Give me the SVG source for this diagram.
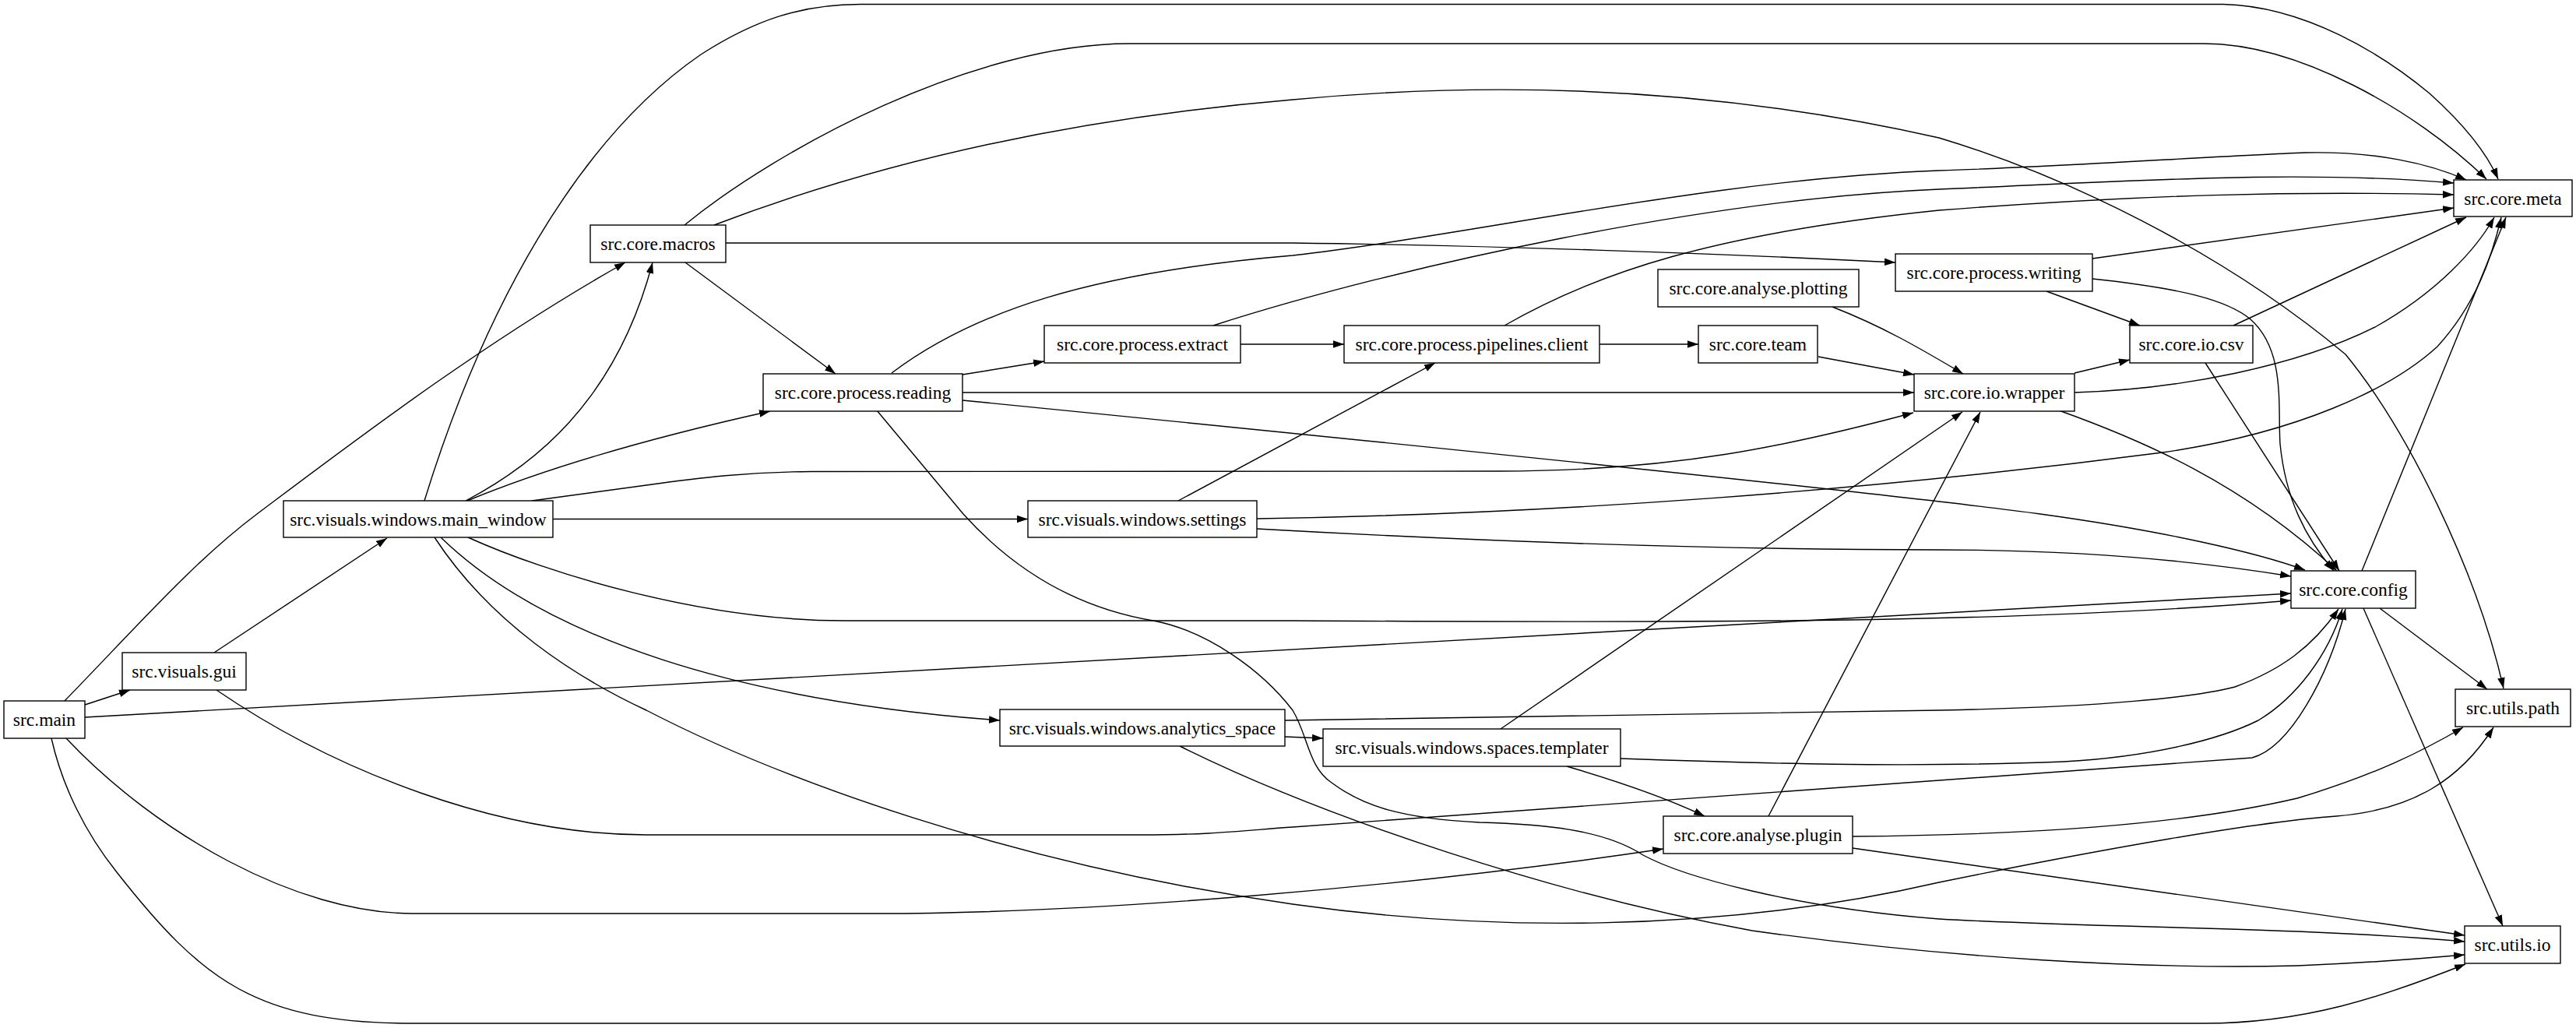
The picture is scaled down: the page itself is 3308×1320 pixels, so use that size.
<svg xmlns="http://www.w3.org/2000/svg" width="3308" height="1320" viewBox="0 0 3308 1320">
<style>
.n rect{fill:#fff;stroke:#000;stroke-width:1.4}
.n text{font-family:"Liberation Serif","Times New Roman",serif;font-size:23.5px;text-anchor:middle;fill:#000}
.e path{fill:none;stroke:#000;stroke-width:1.4;marker-end:url(#a)}
</style>
<defs>
<marker id="a" markerUnits="userSpaceOnUse" markerWidth="14" markerHeight="10" viewBox="0 0 14 10" refX="14" refY="5" orient="auto"><path d="M0,0.2 L14,5 L0,9.8 z" fill="#000"/></marker>
</defs>
<rect width="3308" height="1320" fill="#fff"/>
<g id="edges" class="e">
<path d="M109,905 L167,886"/>
<path d="M83,900 C180,800 250,720 330,660 C450,570 620,440 803,337"/>
<path d="M109,921 L2942,762"/>
<path d="M85,948 C200,1070 380,1173 530,1173 L1126,1173 C1400,1173 1800,1140 2136,1090"/>
<path d="M66,948 C80,1010 110,1070 150,1120 C260,1260 330,1314 530,1314 L2830,1314 C2960,1314 3060,1280 3166,1238"/>
<path d="M275,838 L497,691"/>
<path d="M278,886 C430,990 640,1072 830,1072 L1465,1072 C1560,1072 1600,1066 1660,1062 L2892,973 C2940,960 2990,870 3012,782"/>
<path d="M545,643 C620,400 740,180 900,70 C970,25 1030,5.5 1105,5.5 L2855,5.5 C2960,8 3060,70 3120,120 C3170,165 3195,200 3208,230"/>
<path d="M598,643 C680,600 790,520 838,337"/>
<path d="M600,643 C680,610 800,570 989,528"/>
<path d="M683,643 L830,623 C900,613 960,606 1042,605.5 L1925,605 C2150,605 2300,572 2457,530"/>
<path d="M710,666.5 L1320,666.5"/>
<path d="M601,690 C700,735 900,797 1084,797 L1660,797 C2200,800 2600,800 2942,771"/>
<path d="M566,690 C700,820 950,900 1284,925"/>
<path d="M558,690 C630,800 740,870 830,912 C1000,1000 1300,1110 1660,1161 C1900,1195 2200,1200 2490,1133 C2700,1090 2900,1055 3000,1048 C3100,1040 3160,1000 3202,934"/>
<path d="M879,289 C1000,190 1250,56 1450,56 L2830,56 C2950,56 3100,140 3193,230"/>
<path d="M917,289 C1150,200 1400,150 1660,128 C1850,110 2150,100 2490,177 C2650,225 2850,320 3012,455 C3090,550 3180,730 3215,884"/>
<path d="M932,312 L1660,312 C1900,315 2200,325 2434,337"/>
<path d="M880,337 L1073,480"/>
<path d="M1145,479 C1250,400 1400,350 1660,328 C1900,300 2200,230 2490,219 C2650,214 2850,200 2960,196 C3050,194 3120,210 3167,231"/>
<path d="M1236,481 L1341,464"/>
<path d="M1236,504 L2458,504"/>
<path d="M1236,514 C1700,560 2400,630 2620,660 C2780,682 2900,710 2960,732"/>
<path d="M1126,527 L1237,660 C1300,730 1380,780 1481,797 C1550,810 1620,860 1660,912 C1680,945 1680,985 1710,1005 C1750,1035 1800,1051 1900,1056 C1980,1058 2060,1065 2110,1098 C2160,1125 2300,1165 2490,1180 C2700,1192 2950,1190 3165,1209"/>
<path d="M1558,418 C1800,340 2200,255 2490,243 C2750,232 2950,218 3151,235"/>
<path d="M1593,442 L1726,442"/>
<path d="M1513,643 L1843,466"/>
<path d="M1614,666 C2000,660 2400,630 2777,581 C2950,556 3070,500 3130,445 C3180,390 3200,330 3212,279"/>
<path d="M1614,679 C1900,695 2200,706 2490,706 C2700,706 2850,725 2942,740"/>
<path d="M1650,946 L1699,948"/>
<path d="M1650,925 L2490,912 C2700,908 2820,895 2870,882 C2930,860 2970,830 3003,782"/>
<path d="M1515,958 C1700,1050 2000,1150 2250,1195 C2500,1230 2750,1245 2950,1240 C3050,1236 3120,1230 3165,1226"/>
<path d="M1932,418 C2050,350 2200,300 2490,270 C2750,250 2950,245 3151,250"/>
<path d="M2054,442 L2181,442"/>
<path d="M1927,936 L2520,529"/>
<path d="M2012,984 C2060,998 2130,1020 2189,1048"/>
<path d="M2081,974 C2250,980 2450,986 2650,978 C2760,972 2850,950 2900,925 C2950,895 2990,840 3008,782"/>
<path d="M2353,394 C2420,420 2470,450 2521,480"/>
<path d="M2335,458 L2458,481"/>
<path d="M2271,1048 L2543,529"/>
<path d="M2379,1074 C2600,1072 2800,1060 2950,1025 C3050,995 3110,965 3163,934"/>
<path d="M2379,1089 L3165,1201"/>
<path d="M2687,332 L3151,267"/>
<path d="M2628,374 L2748,418"/>
<path d="M2687,358 C2800,370 2860,385 2890,410 C2935,450 2925,520 2928,570 C2935,640 2960,690 2997,733"/>
<path d="M2664,479 L2735,462"/>
<path d="M2664,504 C2800,500 2950,470 3050,420 C3130,375 3180,320 3203,279"/>
<path d="M2644,527 C2750,565 2880,620 3001,733"/>
<path d="M2868,418 L3167,279"/>
<path d="M2832,466 L3004,733"/>
<path d="M3033,733 L3218,279"/>
<path d="M3056,781 L3194,885"/>
<path d="M3035,781 L3214,1189"/>
</g>
<g id="node-main" class="n"><rect x="5" y="900" width="104" height="48"/><text x="57" y="932">src.main</text></g>
<g id="node-gui" class="n"><rect x="157" y="838" width="159" height="48"/><text x="236.5" y="870">src.visuals.gui</text></g>
<g id="node-main_window" class="n"><rect x="364" y="643" width="346" height="47"/><text x="537" y="674.5">src.visuals.windows.main_window</text></g>
<g id="node-macros" class="n"><rect x="758" y="289" width="174" height="48"/><text x="845" y="321">src.core.macros</text></g>
<g id="node-reading" class="n"><rect x="980" y="480" width="256" height="48"/><text x="1108" y="512">src.core.process.reading</text></g>
<g id="node-extract" class="n"><rect x="1341" y="418" width="252" height="48"/><text x="1467" y="450">src.core.process.extract</text></g>
<g id="node-settings" class="n"><rect x="1320" y="643" width="294" height="47"/><text x="1467" y="674.5">src.visuals.windows.settings</text></g>
<g id="node-analytics_space" class="n"><rect x="1284" y="911" width="366" height="47"/><text x="1467" y="942.5">src.visuals.windows.analytics_space</text></g>
<g id="node-pipelines_client" class="n"><rect x="1726" y="418" width="328" height="48"/><text x="1890" y="450">src.core.process.pipelines.client</text></g>
<g id="node-templater" class="n"><rect x="1699" y="936" width="382" height="48"/><text x="1890" y="968">src.visuals.windows.spaces.templater</text></g>
<g id="node-plotting" class="n"><rect x="2129" y="346" width="258" height="48"/><text x="2258" y="378">src.core.analyse.plotting</text></g>
<g id="node-team" class="n"><rect x="2181" y="418" width="153" height="48"/><text x="2257.5" y="450">src.core.team</text></g>
<g id="node-plugin" class="n"><rect x="2136" y="1048" width="243" height="48"/><text x="2257.5" y="1080">src.core.analyse.plugin</text></g>
<g id="node-writing" class="n"><rect x="2434" y="326" width="253" height="48"/><text x="2560.5" y="358">src.core.process.writing</text></g>
<g id="node-wrapper" class="n"><rect x="2458" y="480" width="206" height="48"/><text x="2561" y="512">src.core.io.wrapper</text></g>
<g id="node-csv" class="n"><rect x="2735" y="418" width="158" height="48"/><text x="2814" y="450">src.core.io.csv</text></g>
<g id="node-config" class="n"><rect x="2942" y="733" width="160" height="48"/><text x="3022" y="765">src.core.config</text></g>
<g id="node-meta" class="n"><rect x="3151" y="231" width="152" height="47"/><text x="3227" y="262.5">src.core.meta</text></g>
<g id="node-utils_path" class="n"><rect x="3153" y="885" width="148" height="48"/><text x="3227" y="917">src.utils.path</text></g>
<g id="node-utils_io" class="n"><rect x="3165" y="1189" width="123" height="48"/><text x="3226.5" y="1221">src.utils.io</text></g>
</svg>
